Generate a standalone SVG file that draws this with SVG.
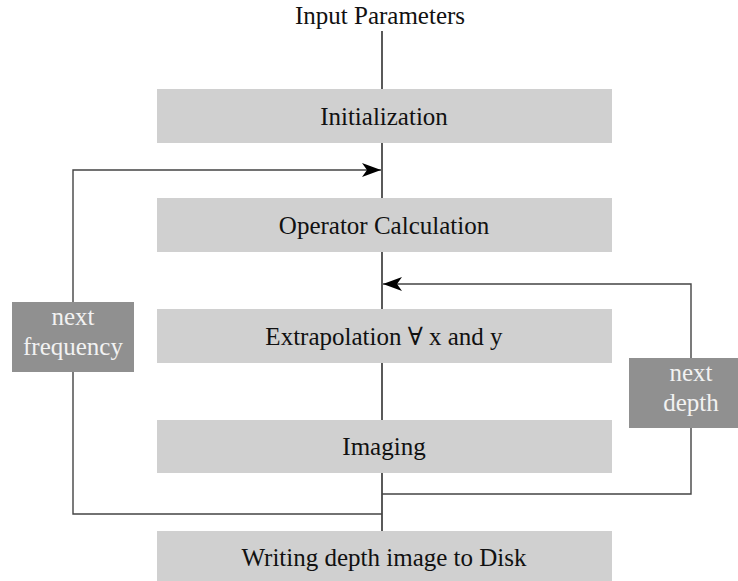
<svg xmlns="http://www.w3.org/2000/svg" width="738" height="581" viewBox="0 0 738 581">
<style>
  text { font-family: 'Liberation Serif', 'Times New Roman', 'DejaVu Serif', serif; font-size: 25px; text-anchor: middle; }
  .step rect { fill: #d0d0d0; }
  .step text { fill: #111; }
  .lbl rect { fill: #909090; }
  .lbl text { fill: #f2f2f2; }
  .title { fill: #111; }
  .main { stroke: #000; stroke-width: 1.3; fill: none; }
  .loop { stroke: #444; stroke-width: 1.4; fill: none; }
</style>
<defs>
  <marker id="stealth" markerUnits="userSpaceOnUse" markerWidth="22" markerHeight="16" viewBox="-20 -8 22 16" refX="0" refY="0" orient="auto">
    <path d="M0,0 L-19,-7 L-14,0 L-19,7 Z" fill="#000"/>
  </marker>
</defs>
<rect width="738" height="581" fill="#fff"/>
<g id="connectors">
  <line class="main" x1="382" y1="31" x2="382" y2="531"/>
  <path class="loop" d="M382,514 H73 V170 H381" marker-end="url(#stealth)"/>
  <path class="loop" d="M382,494 H691 V284 H383" marker-end="url(#stealth)"/>
</g>
<g id="input">
  <text class="title" x="380" y="24" font-family="Liberation Serif, serif">Input Parameters</text>
</g>
<g id="init" class="step">
  <rect x="157" y="89" width="455" height="54"/>
  <text x="384" y="125">Initialization</text>
</g>
<g id="operator" class="step">
  <rect x="157" y="198" width="455" height="54"/>
  <text x="384" y="234">Operator Calculation</text>
</g>
<g id="extrapolation" class="step">
  <rect x="157" y="309" width="455" height="54"/>
  <text x="384" y="345">Extrapolation ∀ x and y</text>
</g>
<g id="imaging" class="step">
  <rect x="157" y="420" width="455" height="53"/>
  <text x="384" y="455">Imaging</text>
</g>
<g id="writing" class="step">
  <rect x="157" y="531" width="455" height="54"/>
  <text x="384" y="566">Writing depth image to Disk</text>
</g>
<g id="next-frequency" class="lbl">
  <rect x="12" y="302" width="122" height="70"/>
  <text x="73" y="325">next</text>
  <text x="73" y="355">frequency</text>
</g>
<g id="next-depth" class="lbl">
  <rect x="629" y="358" width="124" height="70"/>
  <text x="691" y="381">next</text>
  <text x="691" y="411">depth</text>
</g>
</svg>
